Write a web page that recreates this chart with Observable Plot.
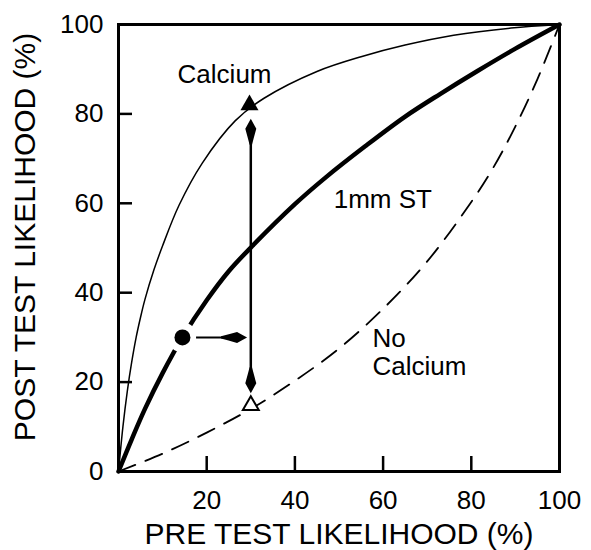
<!DOCTYPE html>
<html><head><meta charset="utf-8">
<script src="https://cdn.jsdelivr.net/npm/d3@7"></script>
<script src="https://cdn.jsdelivr.net/npm/@observablehq/plot@0.6"></script>
<style>html,body{margin:0;padding:0;background:#fff;}</style>
</head><body><div id="chart"></div>
<script>
// Curves (pre-test %, post-test %)
const calciumPre  = [0, 1, 2, 3, 4, 5, 6, 8, 10, 13.7, 19, 26.5, 33, 45, 55, 65, 76, 89, 100];
const calciumPost = [0, 10, 18, 24.5, 30, 34.5, 38.5, 45, 50.5, 59.5, 69, 78.5, 83.5, 89.5, 92.8, 95.4, 97.6, 99.2, 100];

const stPre  = [0, 3, 6, 10, 14.5, 20, 25, 30.4, 40, 47, 56, 65, 73, 81.4, 90, 100];
const stPost = [0, 7.2, 14, 22, 30, 38.3, 44.8, 50.5, 59.8, 65.8, 72.8, 79.4, 84.5, 89.6, 94.6, 100];

const noCalciumPre  = [0, 10, 20, 30, 40, 50, 60, 70, 80, 85, 90, 95, 100];
const noCalciumPost = [0, 4, 8.7, 14, 20.3, 27.5, 36.4, 47, 60.3, 68, 77.2, 87.8, 100];

// Points and arrows
const stPointPre = [14.5], stPointPost = [30];
const calciumPointPre = [29.7], calciumPointPost = [82];
const noCalciumPointPre = [30], noCalciumPointPost = [14.8];
const arrowVX = [30], arrowVY1 = [20.4], arrowVY2 = [76];
const arrowHY = [30], arrowHX1 = [17.7], arrowHX2 = [26.2];
const headUpPos = [[30, 76]], headDownPos = [[30, 20.4]], headRightPos = [[26.2, 30]];

// Tick values and labels
const xTickValues = [20, 40, 60, 80, 100];
const yTickValues = [0, 20, 40, 60, 80, 100];
const innerTicks = [20, 40, 60, 80];
const xTitle = "PRE TEST LIKELIHOOD (%)";
const yTitle = "POST TEST LIKELIHOOD (%)";
const curveLabels = ["Calcium", "1mm ST", "No\nCalcium"];
const curveLabelX = [13.4, 48.8, 57.6];
const curveLabelY = [89, 61, 26.7];

const zip = (xs, ys) => xs.map((x, i) => ({x, y: ys[i]}));

function spindle(dir) {
  const pts = ([a, b]) => dir === "up" ? [a, b] : dir === "down" ? [a, -b] : [-b, a];
  return {draw(ctx) {
    const P = [[0,-13],[5.5,-3],[3,6],[1.2,13],[-1.2,13],[-3,6],[-5.5,-3]].map(pts);
    ctx.moveTo(...P[0]); ctx.lineTo(...P[1]);
    ctx.quadraticCurveTo(...P[2], ...P[3]);
    ctx.lineTo(...P[4]);
    ctx.quadraticCurveTo(...P[5], ...P[6]);
    ctx.closePath();
  }};
}

const W = 591, H = 550, ML = 118, MR = 32, MT = 24, MB = 79;
const innerW = W - ML - MR, innerH = H - MT - MB;
const xTickLen = 15 * 100 / innerH;  // inward tick length in data units
const yTickLen = 14 * 100 / innerW;
const font = "Liberation Sans, Arial, Helvetica, sans-serif";
const chart = Plot.plot({
  width: W, height: H,
  marginLeft: ML, marginRight: MR, marginTop: MT, marginBottom: MB,
  style: {fontFamily: font, background: "#fff", color: "#000"},
  x: {domain: [0, 100]},
  y: {domain: [0, 100]},
  marks: [
    Plot.ruleX(innerTicks, {x: d => d, y1: 0, y2: xTickLen, strokeWidth: 2.5, stroke: "#000"}),
    Plot.ruleY(innerTicks, {y: d => d, x1: 0, x2: yTickLen, strokeWidth: 2.5, stroke: "#000"}),
    Plot.axisX(xTickValues, {tickSize: 0, tickPadding: 19, fontSize: 26, label: null}),
    Plot.axisY(yTickValues, {tickSize: 0, tickPadding: 15, fontSize: 26, label: null}),
    Plot.line(zip(calciumPre, calciumPost), {x: "x", y: "y", curve: "catmull-rom", strokeWidth: 1.5, stroke: "#000"}),
    Plot.line(zip(stPre, stPost), {x: "x", y: "y", curve: "catmull-rom", strokeWidth: 4.5, stroke: "#000"}),
    Plot.line(zip(noCalciumPre, noCalciumPost), {x: "x", y: "y", curve: "catmull-rom", strokeWidth: 1.8, stroke: "#000", strokeDasharray: "18,11"}),
    Plot.dot(zip(stPointPre, stPointPost), {x: "x", y: "y", r: 15, fill: "#fff"}),
    Plot.dot(zip(stPointPre, stPointPost), {x: "x", y: "y", r: 8, fill: "#000"}),
    Plot.ruleX(arrowVX.map((x, i) => ({x, y1: arrowVY1[i], y2: arrowVY2[i]})), {x: "x", y1: "y1", y2: "y2", strokeWidth: 2.5}),
    Plot.ruleY(arrowHY.map((y, i) => ({y, x1: arrowHX1[i], x2: arrowHX2[i]})), {y: "y", x1: "x1", x2: "x2", strokeWidth: 2}),
    Plot.dot(headUpPos, {x: d => d[0], y: d => d[1], symbol: spindle("up"), fill: "#000", stroke: null}),
    Plot.dot(headDownPos, {x: d => d[0], y: d => d[1], symbol: spindle("down"), fill: "#000", stroke: null}),
    Plot.dot(headRightPos, {x: d => d[0], y: d => d[1], symbol: spindle("right"), fill: "#000", stroke: null}),
    Plot.dot(zip(calciumPointPre, calciumPointPost), {x: "x", y: "y", symbol: "triangle", r: 6.7, fill: "#000"}),
    Plot.dot(zip(noCalciumPointPre, noCalciumPointPost), {x: "x", y: "y", symbol: "triangle", r: 5.9, fill: "#fff", stroke: "#000", strokeWidth: 2}),
    Plot.text(curveLabels.map((t, i) => ({t, x: curveLabelX[i], y: curveLabelY[i]})), {x: "x", y: "y", text: "t", textAnchor: "start", lineAnchor: "middle", fontSize: 26, lineHeight: 1.08, fill: "#000"}),
    Plot.text([xTitle], {text: d => d, frameAnchor: "bottom", dy: 63, textAnchor: "middle", lineAnchor: "middle", fontSize: 30, fill: "#000"}),
    Plot.text([yTitle], {text: d => d, frameAnchor: "left", dx: -93, dy: -11, rotate: -90, textAnchor: "middle", lineAnchor: "middle", fontSize: 30, fill: "#000"}),
    Plot.frame({strokeWidth: 3, stroke: "#000"})
  ]
});
document.getElementById("chart").appendChild(chart);
</script>
</body></html>
